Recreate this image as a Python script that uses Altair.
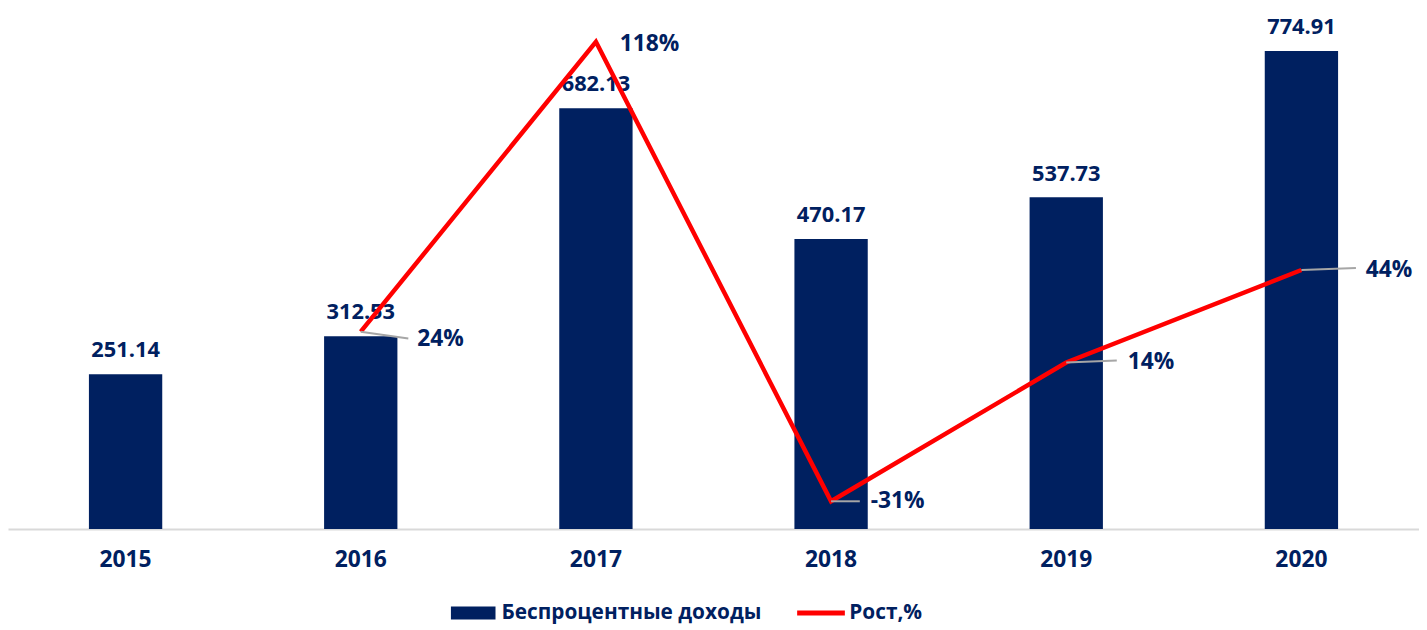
import altair as alt
import pandas as pd

# ---- data ----
years = ["2015", "2016", "2017", "2018", "2019", "2020"]
income = [251.14, 312.53, 682.13, 470.17, 537.73, 774.91]
growth = [None, 24, 118, -31, 14, 44]
series_names = ["Беспроцентные доходы", "Рост,%"]

# ---- style ----
NAVY = "#002060"
RED = "#FF0000"
GREY = "#A6A6A6"
FONT = "Open Sans"
# per-label style offsets: (label dx, label dy, leader length, leader dy)
pct_style = {
    "2016": (57, 7, 48, 7),
    "2017": (24, 2, 0, 0),
    "2018": (40, 0, 29, 0),
    "2019": (62, 0, 51, -2),
    "2020": (65, 0, 55, -2),
}

df = pd.DataFrame({"year": years, "income": income, "growth": growth})
df["income_label"] = df["income"].map(lambda v: f"{v:.2f}")
df["growth_label"] = df["growth"].map(lambda v: "" if pd.isna(v) else f"{int(v)}%")
df["bar_series"] = series_names[0]
df["line_series"] = series_names[1]

x = alt.X(
    "year:N",
    sort=years,
    scale=alt.Scale(paddingInner=0, paddingOuter=0, round=False),
    axis=alt.Axis(
        title=None, labelAngle=0, ticks=False, grid=False,
        domainColor="#D9D9D9", domainWidth=2,
        labelFont=FONT, labelFontSize=23, labelFontWeight="bold",
        labelColor=NAVY, labelPadding=20,
    ),
)
y_bar = alt.Y("income:Q", scale=alt.Scale(domain=[0, 800], nice=False, zero=True), axis=None)
y_line = alt.Y("growth:Q", scale=alt.Scale(domain=[-40, 120], nice=False, zero=False), axis=None)

is_line = "datum.value === '" + series_names[1] + "'"
color_scale = alt.Scale(domain=series_names, range=[NAVY, RED])
legend = alt.Legend(
    title=None, orient="none", direction="horizontal",
    legendX=447, legendY=560,
    labelFont=FONT, labelFontSize=21, labelFontWeight="bold", labelColor=NAVY,
    labelOffset=6, columnPadding=35, symbolSize=2025, labelLimit=400,
    symbolType={"expr": is_line + " ? 'M-1.07,-0.11H1.07V0.11H-1.07Z' : 'M-1,-0.29H1V0.29H-1Z'"},
    symbolFillColor={"expr": is_line + " ? '" + RED + "' : '" + NAVY + "'"},
    symbolStrokeWidth=0,
    symbolOpacity=1,
)

base = alt.Chart(df)

bars = base.mark_bar(size=74).encode(
    x=x, y=y_bar,
    color=alt.Color("bar_series:N", scale=color_scale, legend=legend),
)
bar_labels = base.mark_text(
    dy=-17, baseline="alphabetic", font=FONT, fontSize=22, fontWeight="bold", color=NAVY
).encode(x=x, y=y_bar, text="income_label:N")

line = base.transform_filter("datum.growth != null").mark_line(
    strokeWidth=4.5, strokeJoin="miter"
).encode(
    x=x, y=y_line,
    color=alt.Color("line_series:N", scale=color_scale, legend=legend),
)

layers = [bars, bar_labels, line]
for yr, (ldx, ldy, llen, lldy) in pct_style.items():
    sub = base.transform_filter(f"datum.year == '{yr}'")
    if llen > 0:
        layers.append(
            sub.mark_rule(color=GREY, strokeWidth=2, x2Offset=llen, y2Offset=lldy).encode(
                x=x, x2="year:N", y=y_line, y2="growth:Q"
            )
        )
    layers.append(
        sub.mark_text(
            dx=ldx, dy=ldy, align="left", baseline="middle",
            font=FONT, fontSize=23, fontWeight="bold", color=NAVY,
        ).encode(x=x, y=y_line, text="growth_label:N")
    )

chart = (
    alt.layer(*layers)
    .resolve_scale(y="independent")
    .properties(
        width=1424, height=498,
        padding={"left": 0, "top": 25, "right": 0, "bottom": 95},
        autosize=alt.AutoSizeParams(type="none"),
    )
    .configure_view(stroke=None)
)

chart.save("out.html", embed_options={"renderer": "svg", "actions": False})
